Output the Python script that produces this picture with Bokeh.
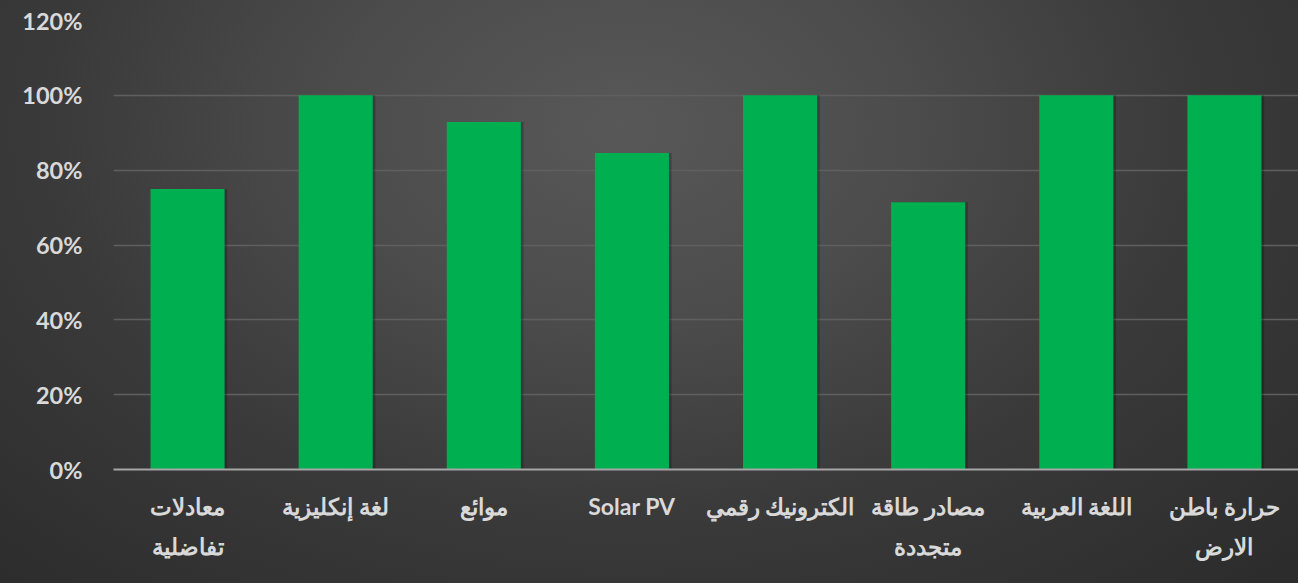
from bokeh.plotting import figure
from bokeh.models import ColumnDataSource, FactorRange, Range1d, FixedTicker, NumeralTickFormatter
from bokeh.transform import dodge
from bokeh.embed import file_html
from bokeh.resources import INLINE

categories = [
    "معادلات\nتفاضلية",
    "لغة إنكليزية",
    "موائع",
    "Solar PV",
    "الكترونيك رقمي",
    "مصادر طاقة\nمتجددة",
    "اللغة العربية",
    "حرارة باطن\nالارض",
]
values = [0.75, 1.00, 0.929, 0.846, 1.00, 0.714, 1.00, 1.00]
y_ticks = [0, 0.2, 0.4, 0.6, 0.8, 1.0, 1.2]

source = ColumnDataSource(data=dict(cat=categories, val=values))

p = figure(
    x_range=FactorRange(*categories),
    y_range=Range1d(0, 1.2),
    width=1298,
    height=583,
    output_backend="svg",
    toolbar_location=None,
    min_border_left=113,
    min_border_right=0,
    min_border_top=20,
    min_border_bottom=114,
)
p.styles = {
    "background": "radial-gradient(ellipse farthest-corner at 48% 22%, #585858 0%, #4c4c4c 30%, #3a3a3a 60%, #2b2b2b 100%)",
}
p.background_fill_alpha = 0
p.border_fill_alpha = 0
p.outline_line_color = None

# subtle shadow
p.vbar(x=dodge("cat", 0.018, range=p.x_range), top="val", width=0.5, bottom=0,
       source=source, fill_color="black", fill_alpha=0.22, line_color=None)
p.vbar(x="cat", top="val", width=0.5, bottom=0, source=source,
       fill_color="#00B050", line_color=None)

p.xgrid.grid_line_color = None
p.ygrid.grid_line_color = "#5f5f5f"
p.ygrid.grid_line_width = 1.5
p.ygrid.ticker = FixedTicker(ticks=y_ticks)

p.yaxis.ticker = FixedTicker(ticks=y_ticks)
p.yaxis.formatter = NumeralTickFormatter(format="0%")
p.yaxis.axis_line_color = None
p.yaxis.major_tick_line_color = None
p.yaxis.minor_tick_line_color = None
p.yaxis.major_label_standoff = 25
p.yaxis.major_label_text_font = "Lato"
p.yaxis.major_label_text_font_style = "bold"
p.yaxis.major_label_text_font_size = "23.5px"
p.yaxis.major_label_text_color = "#d9d9d9"

p.xaxis.axis_line_color = "#a6a6a6"
p.xaxis.axis_line_width = 2
p.xaxis.major_tick_line_color = None
p.xaxis.minor_tick_line_color = None
p.xaxis.major_label_standoff = 16
p.xaxis.major_label_text_font = "Lato"
p.xaxis.major_label_text_font_style = "bold"
p.xaxis.major_label_text_font_size = "23px"
p.xaxis.major_label_text_color = "#d9d9d9"
p.xaxis.major_label_text_line_height = 1.44

open("out.html", "w").write(file_html(p, INLINE))
